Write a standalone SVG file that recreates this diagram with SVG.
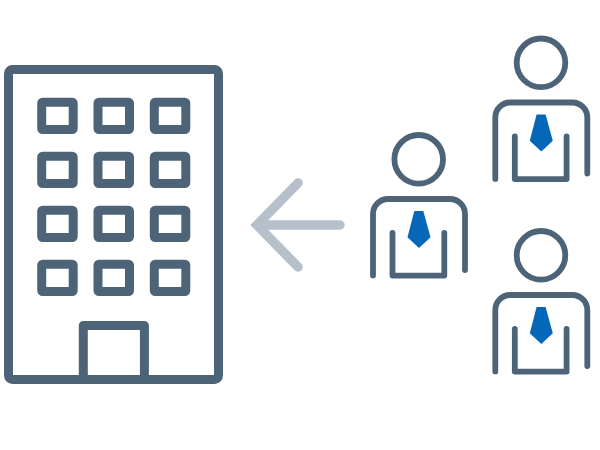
<svg xmlns="http://www.w3.org/2000/svg" width="600" height="450" viewBox="0 0 600 450">
  <style>
    .line { fill: none; stroke: #4d6478; stroke-linecap: round; stroke-linejoin: round; }
    .wall { stroke-width: 9; }
    .win { stroke-width: 9; }
    .body { stroke-width: 5.8; }
    .tie { fill: #0567b8; }
    .arrow { fill: none; stroke: #b5c0ca; stroke-width: 9.5; stroke-linecap: round; stroke-linejoin: miter; }
  </style>
  <defs>
    <rect id="window" class="line win" x="41.7" y="102.2" width="31.5" height="27.3" rx="1"/>
    <g id="person">
      <circle class="line body" cx="418.7" cy="159.3" r="24.3"/>
      <path class="line body" d="M373 275.4V214a15 15 0 0 1 15-15H450a15 15 0 0 1 15 15V270"/>
      <path class="line body" d="M392.5 232.8V275.6H444.3V232.8"/>
      <path class="tie" d="M414.3 211H423.3L430.5 237.3L419 248L407.5 237.3Z"/>
    </g>
  </defs>
  <g id="building">
    <rect class="line wall" x="8.5" y="69.5" width="210" height="310" rx="4"/>
    <path class="line wall" d="M83.3 379V325.4H144.4V379"/>
    <use href="#window"/><use href="#window" x="56.3"/><use href="#window" x="112.6"/>
    <use href="#window" y="54"/><use href="#window" x="56.3" y="54"/><use href="#window" x="112.6" y="54"/>
    <use href="#window" y="108"/><use href="#window" x="56.3" y="108"/><use href="#window" x="112.6" y="108"/>
    <use href="#window" y="162"/><use href="#window" x="56.3" y="162"/><use href="#window" x="112.6" y="162"/>
  </g>
  <g id="connectors">
    <path class="arrow" d="M298 183L257 225L298 267M257 225H340"/>
  </g>
  <g id="person-center"><use href="#person"/></g>
  <g id="person-top"><use href="#person" x="122.3" y="-96.5"/></g>
  <g id="person-bottom"><use href="#person" x="122.3" y="96"/></g>
</svg>
